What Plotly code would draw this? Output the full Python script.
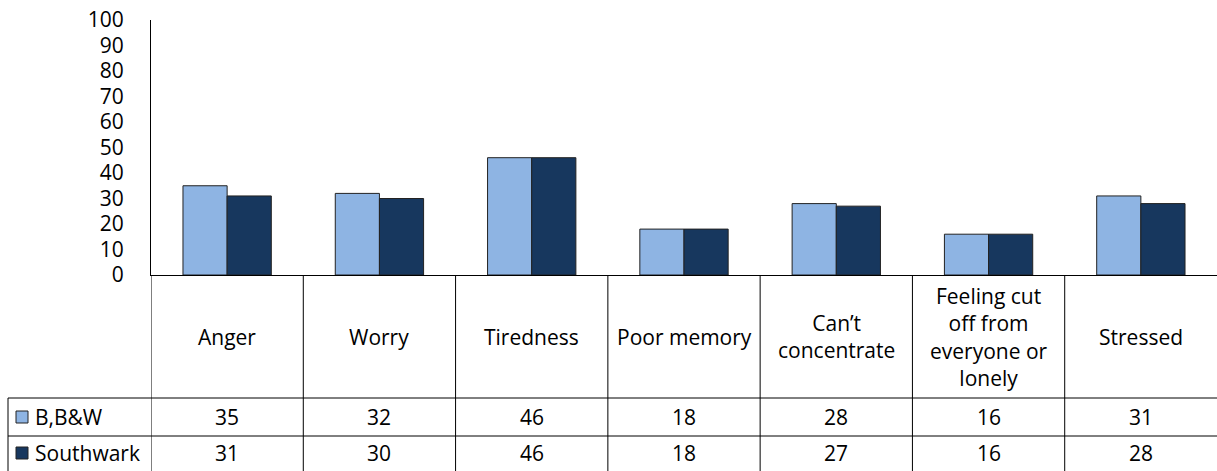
import plotly.graph_objects as go

categories = ["Anger", "Worry", "Tiredness", "Poor memory", "Can\u2019t<br>concentrate",
              "Feeling cut<br>off from<br>everyone or<br>lonely", "Stressed"]
series_names = ["B,B&W", "Southwark"]
bbw = [35, 32, 46, 18, 28, 16, 31]
southwark = [31, 30, 46, 18, 27, 16, 28]
y_ticks = [0, 10, 20, 30, 40, 50, 60, 70, 80, 90, 100]
colors = ["#8EB4E3", "#17375E"]

W, H = 1217, 471
FONT = "Open Sans"
FS = 21

def px(x):
    return x / W

def py(y):
    return 1 - y / H

x_idx = list(range(len(categories)))

fig = go.Figure()
for name, vals, col in zip(series_names, [bbw, southwark], colors):
    fig.add_trace(go.Bar(x=x_idx, y=vals, name=name, marker_color=col,
                         marker_line_color="#222222", marker_line_width=1,
                         showlegend=False))

shapes = []
annotations = []
line_style = dict(color="#000000", width=1)

# vertical table lines at category boundaries
for i in range(len(categories)):
    shapes.append(dict(type="line", xref="x", yref="paper", x0=i - 0.5, x1=i - 0.5,
                       y0=py(275), y1=py(471), line=line_style))
# legend column left border
shapes.append(dict(type="line", xref="paper", yref="paper", x0=px(8), x1=px(8),
                   y0=py(398), y1=py(471), line=line_style))
# horizontal row lines
for yy in (398, 436):
    shapes.append(dict(type="line", xref="paper", yref="paper", x0=px(8), x1=1,
                       y0=py(yy), y1=py(yy), line=line_style))

# header labels
for i, c in enumerate(categories):
    annotations.append(dict(x=i, y=py(336.5), xref="x", yref="paper", text=c,
                            showarrow=False, xanchor="center", yanchor="middle",
                            font=dict(size=FS, color="#000", family=FONT)))

# data rows
row_centers = [417, 453]
for r, (name, vals, col) in enumerate(zip(series_names, [bbw, southwark], colors)):
    yc = row_centers[r]
    for i, v in enumerate(vals):
        annotations.append(dict(x=i, y=py(yc), xref="x", yref="paper", text=str(v),
                                showarrow=False, xanchor="center", yanchor="middle",
                                font=dict(size=FS, color="#000", family=FONT)))
    shapes.append(dict(type="rect", xref="paper", yref="paper", x0=px(16), x1=px(28),
                       y0=py(yc - 6), y1=py(yc + 6), fillcolor=col,
                       line=dict(color="#222222", width=1)))
    annotations.append(dict(x=px(33), y=py(yc), xref="paper", yref="paper", text=name,
                            showarrow=False, xanchor="left", yanchor="middle",
                            font=dict(size=FS, color="#000", family=FONT)))

fig.update_layout(
    width=W, height=H,
    margin=dict(l=0, r=0, t=0, b=0, pad=0, autoexpand=False),
    paper_bgcolor="white", plot_bgcolor="white",
    barmode="group", bargap=0.42, bargroupgap=0,
    shapes=shapes, annotations=annotations,
    font=dict(family=FONT, color="#000"),
    xaxis=dict(domain=[px(151), 1], range=[-0.5, len(categories) - 0.5],
               showticklabels=False, ticks="", showgrid=False, zeroline=False,
               showline=True, linecolor="#000", linewidth=1, fixedrange=True),
    yaxis=dict(domain=[py(275), py(20)], range=[0, 100], tickvals=y_ticks,
               ticktext=[str(t) for t in y_ticks], ticks="", showgrid=False,
               zeroline=False, showline=True, linecolor="#000", linewidth=1,
               tickfont=dict(size=FS, color="#000", family=FONT),
               ticklabelstandoff=22, fixedrange=True),
)

fig.write_html("out.html", config={"displayModeBar": False},
               post_script="document.body.style.margin='0';document.body.style.overflow='hidden';")
